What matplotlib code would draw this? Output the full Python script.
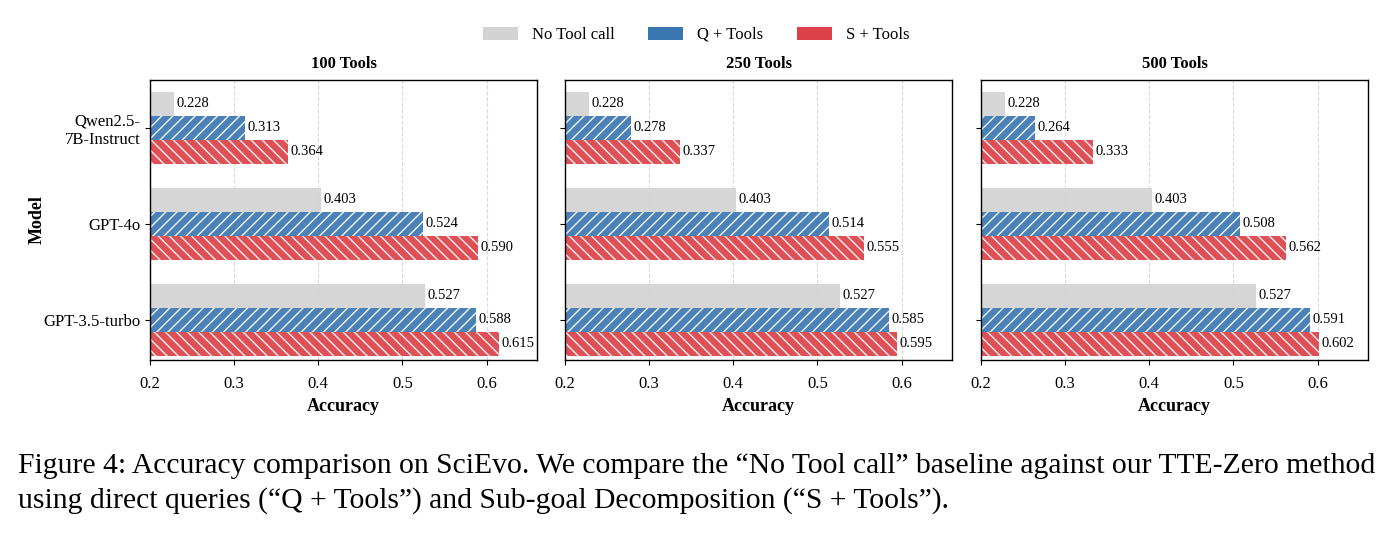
import matplotlib
matplotlib.use('Agg')
import matplotlib.pyplot as plt
from matplotlib.patches import Patch
import numpy as np

plt.rcParams['font.family'] = 'Liberation Serif'
plt.rcParams['hatch.linewidth'] = 1.0
plt.rcParams['hatch.color'] = 'white'

# data
models = ['Qwen2.5-\n7B-Instruct', 'GPT-4o', 'GPT-3.5-turbo']
panels = ['100 Tools', '250 Tools', '500 Tools']
series = ['No Tool call', 'Q + Tools', 'S + Tools']
no_tool = [[0.228, 0.403, 0.527], [0.228, 0.403, 0.527], [0.228, 0.403, 0.527]]
q_tools = [[0.313, 0.524, 0.588], [0.278, 0.514, 0.585], [0.264, 0.508, 0.591]]
s_tools = [[0.364, 0.590, 0.615], [0.337, 0.555, 0.595], [0.333, 0.562, 0.602]]

colors = ['#d3d3d3', '#3a76b0', '#dc4048']
hatches = [None, '///', '\\\\\\']

fig = plt.figure(figsize=(13.92, 5.35), dpi=100)
lefts = [150, 565, 981]
axes = []
for i in range(3):
    ax = fig.add_axes([lefts[i] / 1392, 1 - 360 / 535, 387 / 1392, 280 / 535])
    axes.append(ax)

y = np.arange(len(models))
h = 0.25
for i, ax in enumerate(axes):
    vals = [no_tool[i], q_tools[i], s_tools[i]]
    for j in range(3):
        ax.barh(y + (j - 1) * h, vals[j], height=h, left=0, color=colors[j],
                hatch=hatches[j], edgecolor='white', linewidth=0, alpha=0.92, zorder=2)
        for k, v in enumerate(vals[j]):
            ax.text(v + 0.003, y[k] + (j - 1) * h, '%.3f' % v, va='center', ha='left',
                    fontsize=10.5, zorder=3)
    ax.set_xlim(0.2, 0.66)
    ax.set_ylim(2.42, -0.5)
    ax.set_xticks([0.2, 0.3, 0.4, 0.5, 0.6])
    ax.set_xticklabels(['0.2', '0.3', '0.4', '0.5', '0.6'], fontsize=12)
    ax.tick_params(axis='x', pad=8)
    ax.set_yticks(y)
    if i == 0:
        ax.set_yticklabels(models, fontsize=12, linespacing=1.2)
        ax.set_ylabel('Model', fontsize=13, fontweight='bold', labelpad=-2)
    else:
        ax.set_yticklabels([])
    ax.set_xlabel('Accuracy', fontsize=13, fontweight='bold', labelpad=4)
    ax.set_title(panels[i], fontsize=12, fontweight='bold', pad=9)
    ax.grid(axis='x', linestyle='--', color='#d8d8d8', linewidth=0.8, zorder=0)
    ax.set_axisbelow(True)
    for s in ax.spines.values():
        s.set_linewidth(1.0)

handles = [Patch(facecolor=c, edgecolor='none') for c in colors]
fig.legend(handles, series, loc='upper center', bbox_to_anchor=(0.5, 0.978), ncol=3,
           frameon=False, fontsize=12, handlelength=2.1, handleheight=0.8,
           columnspacing=2.0, handletextpad=0.85)

fig.text(18 / 1392, 1 - 466 / 535,
         'Figure 4: Accuracy comparison on SciEvo. We compare the \u201cNo Tool call\u201d baseline against our TTE-Zero method',
         fontsize=21.3, va='center', ha='left')
fig.text(18 / 1392, 1 - 501 / 535,
         'using direct queries (\u201cQ + Tools\u201d) and Sub-goal Decomposition (\u201cS + Tools\u201d).',
         fontsize=21.3, va='center', ha='left')

fig.savefig('out.png', dpi=100)
